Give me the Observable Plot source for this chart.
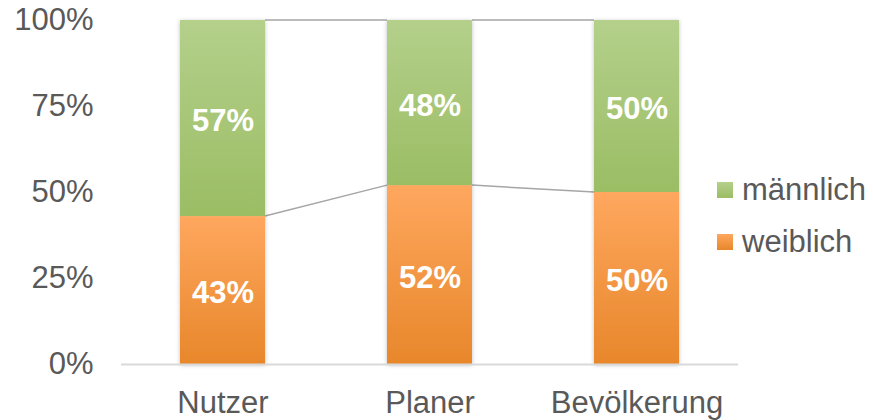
<!DOCTYPE html>
<html>
<head>
<meta charset="utf-8">
<script src="https://cdn.jsdelivr.net/npm/d3@7"></script>
<script src="https://cdn.jsdelivr.net/npm/@observablehq/plot@0.6"></script>
<style>
  body { margin: 0; background: #fff; }
  #wrap { position: relative; width: 873px; height: 420px; font-family: "Liberation Sans", Arial, sans-serif; }
  .legend { position: absolute; left: 717px; color: #595959; font-size: 31px; display: flex; align-items: center; line-height: 1; }
  .legend .sw { width: 16px; height: 16px; margin-right: 9px; }
</style>
</head>
<body>
<div id="wrap"></div>
<script>
const categories = ["Nutzer", "Planer", "Bevölkerung"];
const series = ["weiblich", "männlich"];
const weiblich = [43, 52, 50];
const maennlich = [57, 48, 50];
const yTicks = [0, 25, 50, 75, 100];

const rows = [];
categories.forEach((c, i) => {
  rows.push({cat: c, series: "weiblich", value: weiblich[i]});
  rows.push({cat: c, series: "männlich", value: maennlich[i]});
});

// connector lines between bars at stack boundaries
function connectors(index, scales) {
  const g = d3.create("svg:g").attr("fill", "none").attr("stroke", "#a6a6a6").attr("stroke-width", 1.5);
  const bwRaw = scales.x.bandwidth;
  const bw = typeof bwRaw === "function" ? bwRaw() : bwRaw;
  for (let i = 0; i < categories.length - 1; i++) {
    const xa = scales.x(categories[i]) + bw;
    const xb = scales.x(categories[i + 1]);
    const levels = [[weiblich[i], weiblich[i + 1]], [weiblich[i] + maennlich[i], weiblich[i + 1] + maennlich[i + 1]]];
    for (const [a, b] of levels) {
      g.append("line").attr("x1", xa).attr("x2", xb).attr("y1", scales.y(a)).attr("y2", scales.y(b));
    }
  }
  return g.node();
}

const chart = Plot.plot({
  width: 873,
  height: 420,
  marginLeft: 121,
  marginRight: 135,
  marginTop: 20,
  marginBottom: 56,
  style: {fontSize: "31px", fontFamily: "'Liberation Sans', Arial, sans-serif", color: "#595959", background: "#fff"},
  x: {domain: categories, paddingInner: 0.59, paddingOuter: 0.285, label: null, tickSize: 0, tickPadding: 26},
  y: {domain: [0, 100], ticks: yTicks, tickFormat: d => d + "%", label: null, tickSize: 0, tickPadding: 28},
  color: {domain: series, range: ["url(#gW)", "url(#gM)"]},
  marks: [
    connectors,
    Plot.barY(rows, Plot.stackY({x: "cat", y: "value", fill: "series", order: series})),
    Plot.ruleY([0], {stroke: "#d9d9d9", strokeWidth: 2}),
    Plot.text(rows, Plot.stackY({x: "cat", y: "value", z: "series", order: series, text: d => d.value + "%", fill: "white", fontWeight: "bold", fontSize: 31, dy: 3}))
  ]
});

chart.insertAdjacentHTML("afterbegin", `
<defs>
  <linearGradient id="gW" x1="0" y1="0" x2="0" y2="1">
    <stop offset="0" stop-color="#fea75e"/>
    <stop offset="1" stop-color="#e8872b"/>
  </linearGradient>
  <linearGradient id="gM" x1="0" y1="0" x2="0" y2="1">
    <stop offset="0" stop-color="#b4d08b"/>
    <stop offset="1" stop-color="#9bbd64"/>
  </linearGradient>
  <filter id="sh" x="-20%" y="-5%" width="140%" height="110%">
    <feDropShadow dx="0" dy="1" stdDeviation="2" flood-color="#000" flood-opacity="0.25"/>
  </filter>
</defs>`);
const barG = chart.querySelector('g[aria-label="bar"]');
if (barG) barG.setAttribute("filter", "url(#sh)");

const wrap = document.getElementById("wrap");
wrap.appendChild(chart);

const legendItems = [
  {label: "männlich", top: 174, bg: "linear-gradient(#b4d08b, #9bbd64)"},
  {label: "weiblich", top: 226, bg: "linear-gradient(#fea75e, #e8872b)"}
];
for (const it of legendItems) {
  const d = document.createElement("div");
  d.className = "legend";
  d.style.top = it.top + "px";
  d.innerHTML = `<span class="sw" style="background:${it.bg}"></span><span>${it.label}</span>`;
  wrap.appendChild(d);
}
</script>
</body>
</html>
